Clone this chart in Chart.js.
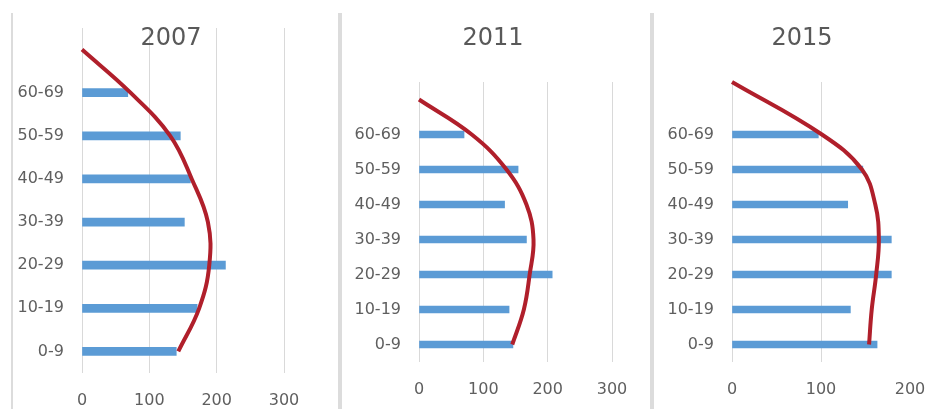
<!DOCTYPE html>
<html>
<head>
<meta charset="utf-8">
<script src="https://cdn.jsdelivr.net/npm/chart.js@4.4.1/dist/chart.umd.min.js"></script>
<style>
  html, body { margin: 0; padding: 0; background: #fff; overflow: hidden; }
  body { width: 928px; height: 409px; position: relative; }
  .sep { position: absolute; top: 13px; bottom: 0; background: #dcdcdc; }
  .panel { position: absolute; top: 0; height: 409px; }
  .title { position: absolute; top: 22px; width: 100px; text-align: center;
           font: 24px "DejaVu Sans", sans-serif; color: #595959; line-height: 30px; }
</style>
</head>
<body>
<div class="sep" style="left:11px;width:2px"></div>
<div class="sep" style="left:338px;width:4px"></div>
<div class="sep" style="left:650px;width:4px"></div>

<div class="panel" style="left:13px;width:324px"><canvas id="chart2007" width="324" height="409"></canvas></div>
<div class="panel" style="left:342px;width:306px"><canvas id="chart2011" width="306" height="409"></canvas></div>
<div class="panel" style="left:654px;width:290px"><canvas id="chart2015" width="290" height="409"></canvas></div>

<div class="title" style="left:121px">2007</div>
<div class="title" style="left:443px">2011</div>
<div class="title" style="left:752px">2015</div>

<script>
// age groups, bottom to top, and the middle age of each group
const ageGroups = ['0-9', '10-19', '20-29', '30-39', '40-49', '50-59', '60-69'];
const groupAges = [5, 15, 25, 35, 45, 55, 65];

const bars2007 = [140, 171, 213, 152, 161, 146, 68];
const curve2007 = [143, 174, 189, 187, 163, 131, 72, 0];
const curveAges2007 = [5, 15, 25, 35, 45, 55, 65, 75];

const bars2011 = [146, 140, 207, 167, 133, 154, 70];
const curve2011 = [145, 163, 172, 178, 167, 136, 82, 0];
const curveAges2011 = [5, 15, 25, 35, 45, 55, 65, 75];

const bars2015 = [163, 133, 179, 179, 130, 147, 97];
const curve2015 = [154, 157, 162, 165, 161, 146, 101, 0];
const curveAges2015 = [5, 15, 25, 35, 45, 55, 65, 80];

const xTicks2007 = [0, 100, 200, 300];
const xTicks2011 = [0, 100, 200, 300];
const xTicks2015 = [0, 100, 200];

const tickFont = { family: 'DejaVu Sans', size: 16 };
const tickColor = '#5f5f5f';
const gridColor = '#d9d9d9';

function makePanel(id, bars, curve, curveAges, xTicks, box) {
  const barPoints = bars.map((v, i) => ({ x: v, y: groupAges[i] }));
  const curvePoints = curve.map((v, i) => ({ x: v, y: curveAges[i] }));
  const xMax = xTicks[xTicks.length - 1];

  return new Chart(document.getElementById(id), {
    data: {
      datasets: [{
        type: 'line',
        data: curvePoints,
        borderColor: '#b01f2b',
        borderWidth: 4,
        pointRadius: 0,
        tension: 0.4,
        clip: 8,
        order: 0
      }, {
        type: 'bar',
        data: barPoints,
        backgroundColor: '#5b9bd5',
        borderWidth: 0,
        barThickness: box.bar,
        order: 1
      }]
    },
    options: {
      indexAxis: 'y',
      responsive: false,
      animation: false,
      layout: { padding: { top: box.top, right: box.right, left: 0, bottom: 0 } },
      plugins: { legend: { display: false }, tooltip: { enabled: false }, title: { display: false } },
      scales: {
        x: {
          type: 'linear',
          min: 0,
          max: xMax,
          afterBuildTicks: (scale) => { scale.ticks = xTicks.map(v => ({ value: v })); },
          afterFit: (scale) => { scale.height = box.xHeight; },
          border: { display: false },
          grid: {
            drawTicks: false,
            color: (ctx) => (box.hideLast && ctx.tick && ctx.tick.value === xMax) ? 'rgba(0,0,0,0)' : gridColor
          },
          ticks: { font: tickFont, color: tickColor, padding: 18 }
        },
        y: {
          type: 'linear',
          min: 0,
          max: 80,
          offset: false,
          afterBuildTicks: (scale) => { scale.ticks = groupAges.map(v => ({ value: v })); },
          afterFit: (scale) => { scale.width = box.yWidth; },
          border: { display: false },
          grid: { display: false, drawTicks: false },
          ticks: {
            font: tickFont,
            color: tickColor,
            padding: 18,
            autoSkip: false,
            callback: (value, index) => ageGroups[index]
          }
        }
      }
    }
  });
}

makePanel('chart2007', bars2007, curve2007, curveAges2007, xTicks2007,
  { top: 28, right: 53, yWidth: 69, xHeight: 36, bar: 8 });
makePanel('chart2011', bars2011, curve2011, curveAges2011, xTicks2011,
  { top: 82, right: 36, yWidth: 77, xHeight: 47, bar: 7 });
makePanel('chart2015', bars2015, curve2015, curveAges2015, xTicks2015,
  { top: 82, right: 34, yWidth: 78, xHeight: 47, bar: 7, hideLast: true });
</script>
</body>
</html>
